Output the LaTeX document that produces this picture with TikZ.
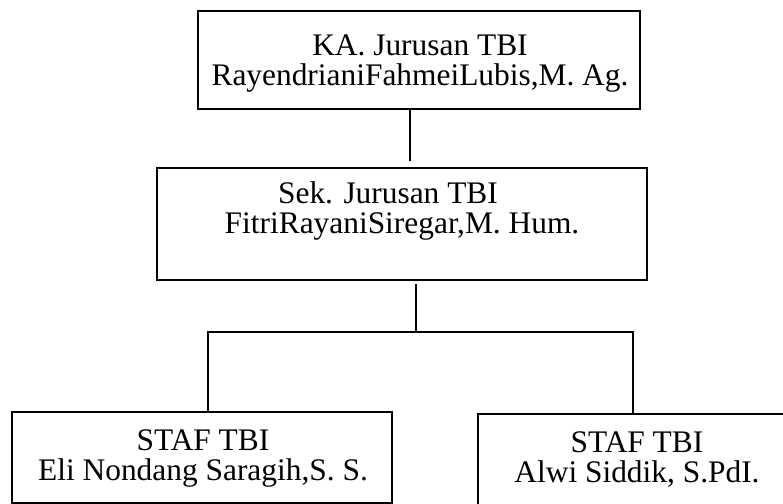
\documentclass[tikz,border=0pt]{standalone}
\usepackage{fontspec}
\setmainfont{Liberation Serif}
\usepackage{tikz}
\usetikzlibrary{positioning}
\tikzset{%
    % Boxes of the chart
    unit/.style     = {draw, rectangle, line width=1.1pt, inner sep=0pt},
    staffunit/.style= {unit, line width=0.9pt},
    % Names inside the boxes
    boxtext/.style  = {anchor=base, inner sep=0pt, align=center,
    font=\fontsize{15.7}{14.6}\selectfont},
    % Lines between the boxes
    link/.style     = {line width=0.85pt}
}
\begin{document}
\begin{tikzpicture}[x=0.5pt,y=-0.5pt]
	\useasboundingbox (0,0) rectangle (783,504);
	\clip (0,0) rectangle (783,504);
	% boxes
	\node[unit, minimum width=221pt, minimum height=49pt] (ka) at (419,60) {};
	\node[unit, line width=1.2pt, minimum width=245pt, minimum height=56pt] (sek) at (402,224) {};
	\node[staffunit, minimum width=190pt, minimum height=45.5pt] (staf1) at (202,457.5) {};
	\node[staffunit, minimum width=159pt, minimum height=53pt] (staf2) at (637,467) {};
	
	% texts (base = last line)
	\node[boxtext] (kaT) at (420,85) {KA. Jurusan TBI\\RayendrianiFahmeiLubis,M. Ag.};
	\node[boxtext] (sekT) at (402,233) {Sek. Jurusan TBI\hspace*{14pt}\\FitriRayaniSiregar,M. Hum.};
	\node[boxtext] (staf1T) at (203,480) {STAF TBI\\Eli Nondang Saragih,S. S.};
	\node[boxtext] (staf2T) at (637,482) {STAF TBI\\Alwi Siddik, S.PdI.};
	
	% lines
	\coordinate (split) at (416,332);
	\draw[link] ([xshift=-4.5pt]ka.south) -- ([xshift=4pt,yshift=3pt]sek.north);
	\draw[link] ([xshift=7pt,yshift=-1.5pt]sek.south) -- (split);
	\draw[link] ([xshift=3pt]staf1.north) |- (split) -| ([xshift=-2pt]staf2.north);
\end{tikzpicture}
\end{document}
